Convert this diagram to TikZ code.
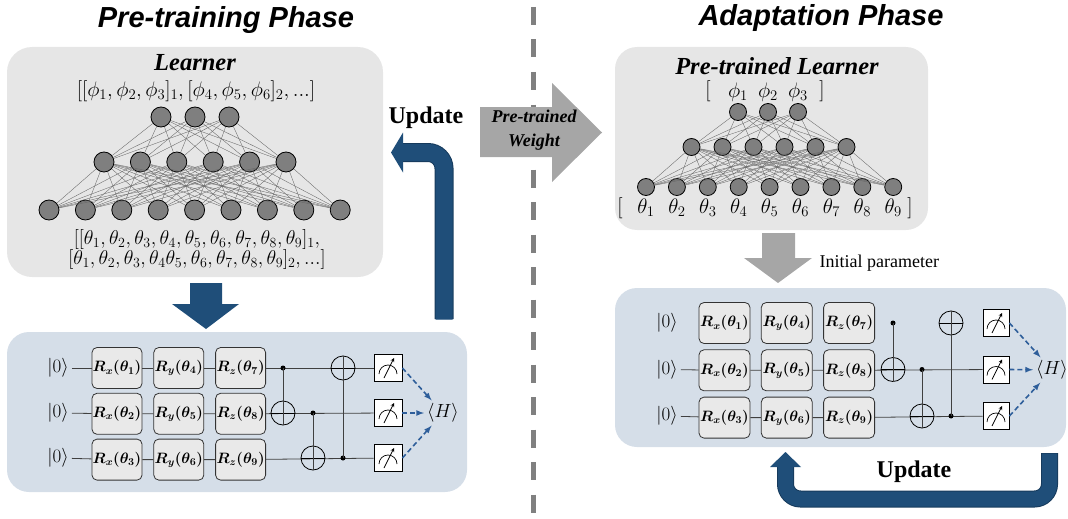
\RequirePackage{fix-cm}
\documentclass[tikz,border=0pt]{standalone}
\usepackage{fontspec}
\setmainfont{Liberation Serif}
\newfontfamily\titlefont{Liberation Sans}
\usepackage{bm}
\usetikzlibrary{positioning,shapes,arrows,calc}

\definecolor{boxgray}{HTML}{E6E6E6}
\definecolor{circblue}{HTML}{D5DEE8}
\definecolor{darkblue}{HTML}{1F4E79}
\definecolor{darkerblue}{HTML}{163A5C}
\definecolor{arrowgray}{HTML}{A6A6A6}
\definecolor{nodegray}{HTML}{7F7F7F}
\definecolor{gatefill}{HTML}{E9E9E9}
\definecolor{dashblue}{HTML}{2E5E9A}

\tikzset{
  titletext/.style={font={\fontsize{29pt}{32pt}\selectfont\titlefont\bfseries\itshape}},
  learnerlabel/.style={font={\fontsize{24.5pt}{28pt}\selectfont\bfseries\itshape}, inner sep=1pt},
  updatelabel/.style={font={\fontsize{24pt}{28pt}\selectfont\bfseries}},
  mathlbl/.style={font={\fontsize{21pt}{24pt}\selectfont}, inner sep=1.5pt},
  learnerbox/.style={fill=boxgray, rounded corners=25pt, inner sep=0pt},
  circbox/.style={fill=circblue, rounded corners=22pt, inner sep=0pt},
  neuron/.style={circle, draw=black, line width=0.8pt, fill=nodegray, minimum size=20pt, inner sep=0pt},
  smallneuron/.style={neuron, minimum size=17pt},
  edge/.style={black!60, line width=0.35pt},
  gatebox/.style={draw=black!80, line width=0.8pt, fill=gatefill, rounded corners=5pt,
    minimum width=50pt, minimum height=41pt, inner sep=0pt, font={\fontsize{15pt}{17pt}\selectfont}},
  ket/.style={font={\fontsize{19pt}{21pt}\selectfont}, inner sep=3pt},
  wire/.style={black!75, line width=0.8pt},
  ctrl/.style={circle, fill=black, minimum size=5pt, inner sep=0pt},
  targ/.style={circle, draw=black, line width=0.8pt, minimum size=24pt, inner sep=0pt,
    path picture={\draw[line width=0.8pt] (path picture bounding box.north) -- (path picture bounding box.south)
      (path picture bounding box.west) -- (path picture bounding box.east);}},
  meter/.style={draw=black, line width=0.8pt, fill=white, minimum width=28pt, minimum height=27pt, inner sep=0pt,
    path picture={
      \draw[line width=0.7pt] ([shift={(-9,6)}]path picture bounding box.center) arc[start angle=180, end angle=360, radius=9];
      \draw[line width=0.7pt, -stealth] ([shift={(-4,10)}]path picture bounding box.center) -- ([shift={(6,-10)}]path picture bounding box.center);}},
  dasharrow/.style={dashblue, line width=1.6pt, dash pattern=on 5pt off 3pt, -latex},
  updline/.style={darkblue, line width=17pt, rounded corners=16pt},
  midline/.style={black!50, line width=5pt, dash pattern=on 18pt off 14.5pt}
}

\begin{document}
\begin{tikzpicture}[x=1pt, y=-1pt, node distance=4pt and 11pt]

  \useasboundingbox (0,0) rectangle (1068,519);

  \draw[midline] (533,7) -- (533,519);  % phase divider

  \node (titleL) [titletext] at (226,20) {Pre-training Phase};
  \node (titleR) [titletext] at (821,18) {Adaptation Phase};

  % ---------- pre-training: learner
  \node (learnerL) [learnerbox, minimum width=376pt, minimum height=230pt] at (195,162) {};
  \node (learnerLT) [learnerlabel] at (195,63) {Learner};
  \node (phiL) [mathlbl] at (196,91) {$[[\phi_1,\phi_2,\phi_3]_1,[\phi_4,\phi_5,\phi_6]_2,...]$};

  \foreach \i in {1,...,3} \node (lt\i) [neuron] at ({161+34*(\i-1)},117) {};
  \foreach \i in {1,...,6} \node (lm\i) [neuron] at ({104+36.4*(\i-1)},162) {};
  \foreach \i in {1,...,9} \node (lb\i) [neuron] at ({49+36.4*(\i-1)},210) {};
  \foreach \i in {1,...,3} \foreach \j in {1,...,6} \draw[edge] (lt\i) -- (lm\j);
  \foreach \i in {1,...,6} \foreach \j in {1,...,9} \draw[edge] (lm\i) -- (lb\j);

  \node (thetaLA) [mathlbl, inner sep=0pt, font={\fontsize{20pt}{22pt}\selectfont}] at (197,239) {$[[\theta_1,\theta_2,\theta_3,\theta_4,\theta_5,\theta_6,\theta_7,\theta_8,\theta_9]_1,$};
  \node (thetaLB) [mathlbl, inner sep=0pt, font={\fontsize{20pt}{22pt}\selectfont}] at (197,259) {$[\theta_1,\theta_2,\theta_3,\theta_4\theta_5,\theta_6,\theta_7,\theta_8,\theta_9]_2,...]$};

  \fill[darkblue] (190,283) -- (222,283) -- (222,304) -- (239,304) -- (206,329) -- (172,304) -- (190,304) -- cycle;

  % ---------- pre-training: circuit
  \node (circL) [circbox, minimum width=460pt, minimum height=160pt] at (237,412) {};

  \node (kL1) [ket] at (58,368) {$|0\rangle$};
  \node (kL2) [ket] at (58,413) {$|0\rangle$};
  \node (kL3) [ket] at (58,458) {$|0\rangle$};

  \node (gL11) [gatebox] at (117,368) {$\bm{R_x(\theta_1)}$};
  \node (gL12) [gatebox, right=of gL11] {$\bm{R_y(\theta_4)}$};
  \node (gL13) [gatebox, right=of gL12] {$\bm{R_z(\theta_7)}$};
  \node (gL21) [gatebox, below=of gL11] {$\bm{R_x(\theta_2)}$};
  \node (gL22) [gatebox, right=of gL21] {$\bm{R_y(\theta_5)}$};
  \node (gL23) [gatebox, right=of gL22] {$\bm{R_z(\theta_8)}$};
  \node (gL31) [gatebox, below=of gL21] {$\bm{R_x(\theta_3)}$};
  \node (gL32) [gatebox, right=of gL31] {$\bm{R_y(\theta_6)}$};
  \node (gL33) [gatebox, right=of gL32] {$\bm{R_z(\theta_9)}$};

  \node (mL1) [meter] at (388,368) {};
  \node (mL2) [meter] at (388,413) {};
  \node (mL3) [meter] at (388,458) {};

  \draw[wire] (kL1) -- (gL11) -- (gL12) -- (gL13) -- (mL1);
  \draw[wire] (kL2) -- (gL21) -- (gL22) -- (gL23) -- (mL2);
  \draw[wire] (kL3) -- (gL31) -- (gL32) -- (gL33) -- (mL3);

  \node (cL1) [ctrl] at (283,368) {};
  \node (tL1) [targ] at (283,413) {};
  \node (cL2) [ctrl] at (313,413) {};
  \node (tL2) [targ] at (313,458) {};
  \node (tL3) [targ] at (343,368) {};
  \node (cL3) [ctrl] at (343,458) {};
  \draw[wire] (cL1.center) -- (tL1.south);
  \draw[wire] (cL2.center) -- (tL2.south);
  \draw[wire] (tL3.north) -- (cL3.center);

  \node (HL) [ket] at (443,413) {$\langle H\rangle$};
  \draw[dasharrow] (mL1.east) -- (HL);
  \draw[dasharrow] (mL2.east) -- (HL);
  \draw[dasharrow] (mL3.east) -- (HL);

  % update loop (left)
  \draw[updline, darkerblue, line width=19pt] (444,319) |- (403,152.5);
  \draw[updline] (444,319.5) |- (402,152.5);
  \fill[darkblue] (403,132.5) -- (391,152.5) -- (403,172.5) -- cycle;
  \node (updL) [updatelabel] at (426,118) {Update};

  % ---------- transfer
  \fill[arrowgray] (480,107) -- (552,107) -- (552,83) -- (602,132.5) -- (552,182) -- (552,157) -- (480,157) -- cycle;
  \node (weightT) [learnerlabel, font={\fontsize{18pt}{24pt}\selectfont\bfseries\itshape}, align=center] at (534,130) {Pre-trained\\Weight};

  % ---------- adaptation: learner
  \node (learnerR) [learnerbox, rounded corners=22pt, minimum width=313pt, minimum height=183pt] at (771.5,138.5) {};
  \node (learnerRT) [learnerlabel] at (777,66) {Pre-trained Learner};

  \foreach \i in {1,...,3} \node (rt\i) [smallneuron] at ({738+30*(\i-1)},112) {};
  \foreach \i in {1,...,6} \node (rm\i) [smallneuron] at ({691.5+31*(\i-1)},147) {};
  \foreach \i in {1,...,9} \node (rb\i) [smallneuron] at ({646+30.9*(\i-1)},187) {};
  \foreach \i in {1,...,3} \foreach \j in {1,...,6} \draw[edge] (rt\i) -- (rm\j);
  \foreach \i in {1,...,6} \foreach \j in {1,...,9} \draw[edge] (rm\i) -- (rb\j);

  \foreach \i in {1,...,3} \node (phiR\i) [mathlbl, above=0pt of rt\i] {$\phi_{\i}$};
  \node (phiRo) [mathlbl] at (708,91) {$[$};  % left bracket
  \node (phiRc) [mathlbl] at (822,91) {$]$};  % right bracket
  \foreach \i in {1,...,9} \node (thetaR\i) [mathlbl, below=1pt of rb\i] {$\theta_{\i}$};
  \node (thetaRo) [mathlbl] at (620,208) {$[$};  % left bracket
  \node (thetaRc) [mathlbl] at (910,208) {$]$};  % right bracket

  \fill[arrowgray] (762,233) -- (795,233) -- (795,258) -- (812,258) -- (778,283) -- (744,258) -- (762,258) -- cycle;
  \node (initT) [anchor=west, font={\fontsize{18pt}{20pt}\selectfont}] at (816,263) {Initial parameter};

  % ---------- adaptation: circuit
  \node (circR) [circbox, minimum width=451pt, minimum height=159pt] at (840.5,367.5) {};

  \node (kR1) [ket] at (667,323) {$|0\rangle$};
  \node (kR2) [ket] at (667,369.5) {$|0\rangle$};
  \node (kR3) [ket] at (667,416) {$|0\rangle$};

  \begin{scope}[node distance=5.5pt and 10.5pt]
  \node (gR11) [gatebox, minimum width=51pt] at (724.5,323) {$\bm{R_x(\theta_1)}$};
  \node (gR12) [gatebox, minimum width=51pt, right=of gR11] {$\bm{R_y(\theta_4)}$};
  \node (gR13) [gatebox, minimum width=51pt, right=of gR12] {$\bm{R_z(\theta_7)}$};
  \node (gR21) [gatebox, minimum width=51pt, below=of gR11] {$\bm{R_x(\theta_2)}$};
  \node (gR22) [gatebox, minimum width=51pt, right=of gR21] {$\bm{R_y(\theta_5)}$};
  \node (gR23) [gatebox, minimum width=51pt, right=of gR22] {$\bm{R_z(\theta_8)}$};
  \node (gR31) [gatebox, minimum width=51pt, below=of gR21] {$\bm{R_x(\theta_3)}$};
  \node (gR32) [gatebox, minimum width=51pt, right=of gR31] {$\bm{R_y(\theta_6)}$};
  \node (gR33) [gatebox, minimum width=51pt, right=of gR32] {$\bm{R_z(\theta_9)}$};
  \end{scope}

  \node (mR1) [meter, minimum width=26pt] at (996,323) {};
  \node (mR2) [meter, minimum width=26pt] at (996,369.5) {};
  \node (mR3) [meter, minimum width=26pt] at (996,416) {};

  \draw[wire] (kR2) -- (gR21) -- (gR22) -- (gR23) -- (mR2);
  \draw[wire] (kR3) -- (gR31) -- (gR32) -- (gR33) -- (mR3);

  \node (cR1) [ctrl] at (893,323) {};
  \node (tR1) [targ] at (893,369.5) {};
  \node (cR2) [ctrl] at (922,369.5) {};
  \node (tR2) [targ] at (922,416) {};
  \node (tR3) [targ] at (951,323) {};
  \node (cR3) [ctrl] at (951,416) {};
  \draw[wire] (cR1.center) -- (tR1.south);
  \draw[wire] (cR2.center) -- (tR2.south);
  \draw[wire] (tR3.north) -- (cR3.center);

  \node (HR) [ket] at (1052,370) {$\langle H\rangle$};
  \draw[dasharrow] (mR1.east) -- (HR);
  \draw[dasharrow] (mR2.east) -- (HR);
  \draw[dasharrow] (mR3.east) -- (HR);

  % update loop (right)
  \draw[updline, darkerblue, line width=17pt, rounded corners=15pt] (1049.5,453) |- (785.5,499) -- (785.5,466);
  \draw[updline, line width=15pt, rounded corners=15pt] (1049.5,453.5) |- (785.5,499) -- (785.5,466);
  \fill[darkblue] (770,467) -- (785.5,452) -- (801,467) -- cycle;
  \node (updR) [updatelabel] at (914,472) {Update};

\end{tikzpicture}
\end{document}
